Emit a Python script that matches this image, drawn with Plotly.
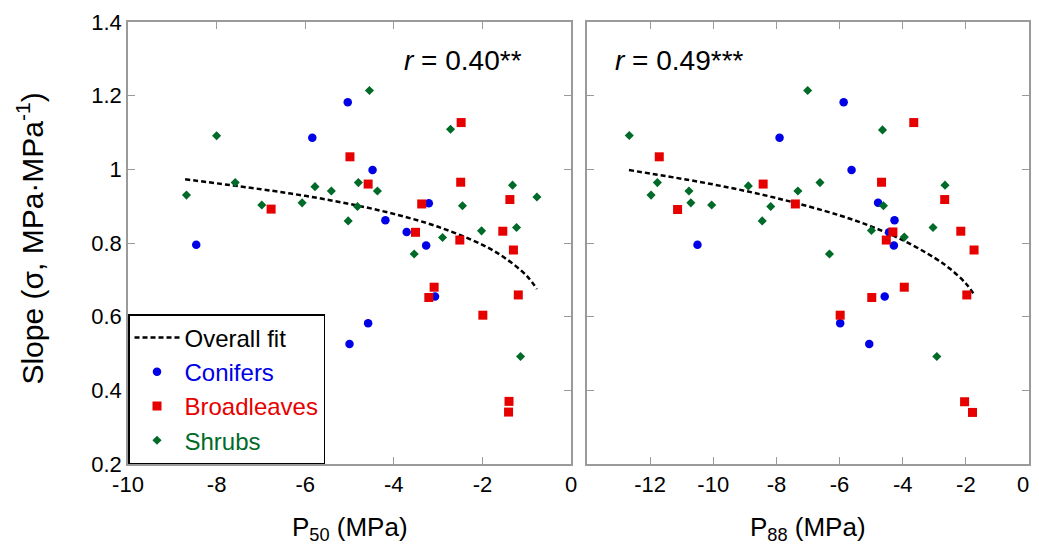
import plotly.graph_objects as go

# ---------- data ----------
# Left panel: P50
con_p50 = [-8.46, -5.84, -5.04, -4.48, -4.19, -3.71, -3.27, -3.21, -3.07, -4.58, -5.00]
con_s50 = [0.795, 1.086, 1.182, 0.998, 0.862, 0.830, 0.793, 0.908, 0.655, 0.582, 0.526]
brd_p50 = [-6.77, -4.99, -4.58, -3.37, -3.51, -2.48, -2.49, -2.51, -1.54, -1.38, -1.30,
           -3.09, -3.21, -1.19, -1.99, -1.40, -1.41]
brd_s50 = [0.892, 1.034, 0.960, 0.906, 0.829, 1.127, 0.965, 0.808, 0.832, 0.918, 0.781,
           0.680, 0.652, 0.659, 0.604, 0.370, 0.341]
shr_p50 = [-8.68, -8.00, -7.58, -6.98, -6.07, -5.78, -5.41, -5.03, -4.80, -4.82, -4.55,
           -4.37, -2.72, -2.45, -2.90, -2.02, -1.32, -0.77, -1.23, -3.54, -1.14]
shr_s50 = [0.930, 1.091, 0.964, 0.903, 0.909, 0.953, 0.941, 0.860, 0.964, 0.899, 1.214,
           0.941, 1.109, 0.901, 0.815, 0.833, 0.957, 0.925, 0.842, 0.770, 0.492]
fit50_x = [-8.71, -7.0, -6.0, -5.0, -4.0, -3.0, -2.0, -1.5, -1.0, -0.77]
fit50_y = [0.973, 0.946, 0.928, 0.906, 0.879, 0.844, 0.795, 0.760, 0.711, 0.675]

# Right panel: P88
con_p88 = [-10.50, -7.90, -5.87, -5.62, -4.26, -4.43, -4.28, -4.78, -4.57, -5.98, -5.06]
con_s88 = [0.795, 1.086, 1.182, 0.998, 0.862, 0.829, 0.793, 0.909, 0.655, 0.582, 0.526]
brd_p88 = [-11.71, -11.13, -8.42, -7.40, -3.65, -4.67, -2.67, -4.31, -4.52, -2.16, -1.74,
           -3.95, -4.98, -1.97, -5.98, -2.04, -1.79]
brd_s88 = [1.034, 0.891, 0.960, 0.906, 1.127, 0.965, 0.918, 0.830, 0.808, 0.832, 0.781,
           0.680, 0.652, 0.659, 0.604, 0.369, 0.340]
shr_p88 = [-12.66, -11.77, -11.97, -10.77, -10.71, -10.05, -8.89, -8.18, -8.45, -7.32,
           -7.01, -4.64, -6.62, -2.66, -4.61, -4.99, -3.95, -3.04, -6.32, -2.92]
shr_s88 = [1.092, 0.964, 0.930, 0.941, 0.909, 0.903, 0.955, 0.899, 0.860, 0.941,
           1.214, 1.107, 0.964, 0.957, 0.901, 0.834, 0.816, 0.842, 0.770, 0.492]
fit88_x = [-12.67, -10.0, -8.0, -6.0, -5.0, -4.0, -3.0, -2.5, -2.0, -1.73]
fit88_y = [0.998, 0.959, 0.922, 0.875, 0.845, 0.808, 0.760, 0.730, 0.690, 0.659]

left_xticks = [-10, -8, -6, -4, -2, 0]
left_xtext = ["-10", "-8", "-6", "-4", "-2", "0"]
right_xticks = [-12, -10, -8, -6, -4, -2, 0]
right_xtext = ["-12", "-10", "-8", "-6", "-4", "-2", ""]   # last label ("0") drawn below
right_last_label = "0"
yticks = [0.2, 0.4, 0.6, 0.8, 1.0, 1.2, 1.4]
ytick_text = ["0.2", "0.4", "0.6", "0.8", "1", "1.2", "1.4"]

BLUE = "#0000e6"
RED = "#e60000"
GREEN = "#006a28"
FONT = "Liberation Sans, Arial, sans-serif"

fig = go.Figure()

def add_panel(xa, ya, fx, fy, cx, cy, bx, by, sx, sy, legend):
    fig.add_trace(go.Scatter(x=fx, y=fy, mode="lines", xaxis=xa, yaxis=ya,
                             line=dict(color="black", width=2.5, dash="5px,3px", shape="spline"),
                             name="Overall fit", showlegend=legend))
    fig.add_trace(go.Scatter(x=cx, y=cy, mode="markers", xaxis=xa, yaxis=ya,
                             marker=dict(color=BLUE, size=8.5, symbol="circle"),
                             name="<span style='color:%s'>Conifers</span>" % BLUE,
                             showlegend=legend))
    fig.add_trace(go.Scatter(x=bx, y=by, mode="markers", xaxis=xa, yaxis=ya,
                             marker=dict(color=RED, size=9, symbol="square"),
                             name="<span style='color:%s'>Broadleaves</span>" % RED,
                             showlegend=legend))
    fig.add_trace(go.Scatter(x=sx, y=sy, mode="markers", xaxis=xa, yaxis=ya,
                             marker=dict(color=GREEN, size=7, symbol="diamond"),
                             name="<span style='color:%s'>Shrubs</span>" % GREEN,
                             showlegend=legend))

add_panel("x", "y", fit50_x, fit50_y, con_p50, con_s50, brd_p50, brd_s50, shr_p50, shr_s50, True)
add_panel("x2", "y2", fit88_x, fit88_y, con_p88, con_s88, brd_p88, brd_s88, shr_p88, shr_s88, False)

axis_common = dict(showgrid=False, zeroline=False, showline=True, linecolor="#9a9a9a",
                   linewidth=1.5, mirror="ticks", ticks="inside", ticklen=7,
                   tickcolor="#9a9a9a", tickwidth=1, automargin=False,
                   ticklabeloverflow="allow",
                   tickfont=dict(family=FONT, size=22, color="black"))

# page body has an 8px margin: keep the page from overflowing the window
fig.update_layout(
    width=1023, height=542,
    margin=dict(l=120, r=2, t=14, b=86),
    plot_bgcolor="white", paper_bgcolor="white",
    font=dict(family=FONT, color="black"),
    xaxis=dict(domain=[0, 0.4917], range=[-10, 0], tickvals=left_xticks,
               ticktext=left_xtext, **axis_common),
    yaxis=dict(domain=[0, 1], range=[0.2, 1.4], tickvals=yticks, ticktext=ytick_text,
               **axis_common),
    xaxis2=dict(domain=[0.5094, 1], range=[-14, 0], tickvals=right_xticks,
                ticktext=right_xtext, anchor="y2", **axis_common),
    yaxis2=dict(domain=[0, 1], range=[0.2, 1.4], tickvals=yticks, showticklabels=False,
                anchor="x2", **axis_common),
    legend=dict(x=0, y=0, xanchor="left", yanchor="bottom",
                bgcolor="white", bordercolor="black", borderwidth=1.5,
                font=dict(family=FONT, size=24, color="black"),
                itemwidth=45),
    showlegend=True,
)

ann = [
    dict(xref="paper", x=0.3718, y=0.912, text="<i>r</i> = 0.40**", font=dict(size=28, family=FONT)),
    dict(xref="paper", x=0.6124, y=0.912, text="<i>r</i> = 0.49***", font=dict(size=28, family=FONT)),
    dict(xref="paper", x=0.2459, y=-0.147, text="P<sub>50</sub> (MPa)", font=dict(size=26, family=FONT)),
    dict(xref="paper", x=0.7547, y=-0.147, text="P<sub>88</sub> (MPa)", font=dict(size=26, family=FONT)),
    dict(xref="paper", x=-0.1088, y=0.51, text="Slope (σ, MPa·MPa<sup>-1</sup>)", textangle=-90,
         font=dict(size=30, family=FONT)),
]
for a in ann:
    fig.add_annotation(yref="paper", showarrow=False,
                       xanchor="center", yanchor="middle", **a)

# right-most tick label of the P88 axis, kept inside the page
fig.add_annotation(xref="x2", yref="paper", x=right_xticks[-1], y=0, text=right_last_label,
                   showarrow=False, xanchor="right", yanchor="middle", xshift=2, yshift=-20,
                   font=dict(size=22, family=FONT, color="black"))

fig.write_html("out.html")
